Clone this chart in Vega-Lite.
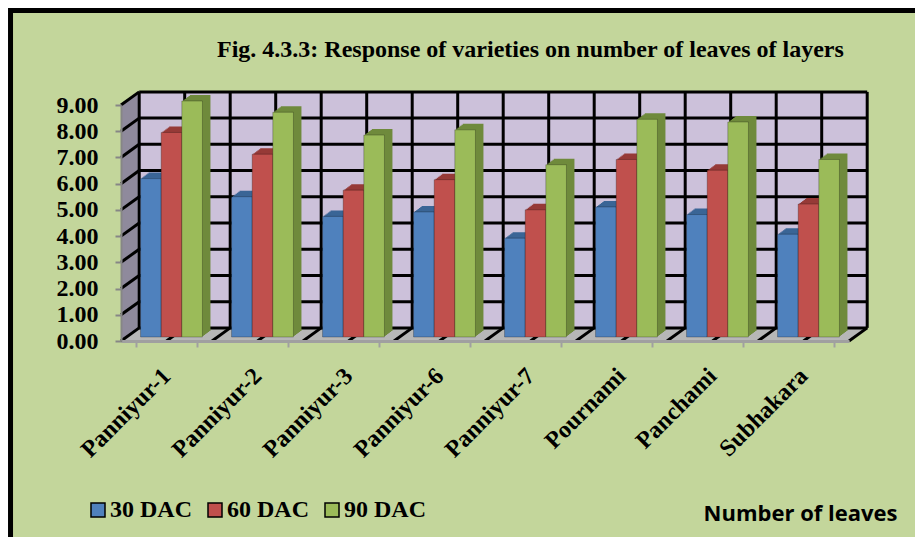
{"$schema":"https://vega.github.io/schema/vega-lite/v6.json","width":728,"height":236,"autosize":{"type":"none"},"padding":{"left":121,"top":105,"right":66,"bottom":196},"background":"white","title":{"text":"Fig. 4.3.3: Response of varieties on number of leaves of layers","anchor":"start","dx":209,"offset":-54,"zindex":2,"font":"Liberation Serif","fontSize":24,"fontWeight":"bold","color":"#000000"},"config":{"view":{"stroke":null},"axis":{"labelOverlap":false,"labelBound":false,"labelFlush":false}},"datasets":{"bars":[{"variety":"Panniyur-1","stage":"30 DAC","leaves":6.04},{"variety":"Panniyur-1","stage":"60 DAC","leaves":7.8},{"variety":"Panniyur-1","stage":"90 DAC","leaves":9.0},{"variety":"Panniyur-2","stage":"30 DAC","leaves":5.35},{"variety":"Panniyur-2","stage":"60 DAC","leaves":6.97},{"variety":"Panniyur-2","stage":"90 DAC","leaves":8.57},{"variety":"Panniyur-3","stage":"30 DAC","leaves":4.6},{"variety":"Panniyur-3","stage":"60 DAC","leaves":5.6},{"variety":"Panniyur-3","stage":"90 DAC","leaves":7.7},{"variety":"Panniyur-6","stage":"30 DAC","leaves":4.77},{"variety":"Panniyur-6","stage":"60 DAC","leaves":6.0},{"variety":"Panniyur-6","stage":"90 DAC","leaves":7.9},{"variety":"Panniyur-7","stage":"30 DAC","leaves":3.77},{"variety":"Panniyur-7","stage":"60 DAC","leaves":4.85},{"variety":"Panniyur-7","stage":"90 DAC","leaves":6.57},{"variety":"Pournami","stage":"30 DAC","leaves":4.96},{"variety":"Pournami","stage":"60 DAC","leaves":6.77},{"variety":"Pournami","stage":"90 DAC","leaves":8.3},{"variety":"Panchami","stage":"30 DAC","leaves":4.67},{"variety":"Panchami","stage":"60 DAC","leaves":6.36},{"variety":"Panchami","stage":"90 DAC","leaves":8.2},{"variety":"Subhakara","stage":"30 DAC","leaves":3.92},{"variety":"Subhakara","stage":"60 DAC","leaves":5.07},{"variety":"Subhakara","stage":"90 DAC","leaves":6.77}],"left":[{"d":0,"lo":0,"hi":9},{"d":0.2,"lo":0.5,"hi":9.5}],"floor":[{"d":0,"lo":0,"hi":0},{"d":0.2,"lo":0,"hi":0.5},{"d":8,"lo":0,"hi":0.5},{"d":8.2,"lo":0.5,"hi":0.5}],"wall":[{"d":0.2,"lo":0.5,"hi":9.5},{"d":8.2,"lo":0.5,"hi":9.5}],"sheet":[{"a":-1.214,"b":8.9,"lo":-8,"hi":12.6}],"grid":[{"a":0.2,"b":8.2,"lo":0.5,"hi":0.5},{"a":0.2,"b":8.2,"lo":1.5,"hi":1.5},{"a":0.2,"b":8.2,"lo":2.5,"hi":2.5},{"a":0.2,"b":8.2,"lo":3.5,"hi":3.5},{"a":0.2,"b":8.2,"lo":4.5,"hi":4.5},{"a":0.2,"b":8.2,"lo":5.5,"hi":5.5},{"a":0.2,"b":8.2,"lo":6.5,"hi":6.5},{"a":0.2,"b":8.2,"lo":7.5,"hi":7.5},{"a":0.2,"b":8.2,"lo":8.5,"hi":8.5},{"a":0.2,"b":8.2,"lo":9.5,"hi":9.5},{"a":0.2,"b":0.2,"lo":0.5,"hi":9.5},{"a":0.7,"b":0.7,"lo":0.5,"hi":9.5},{"a":1.2,"b":1.2,"lo":0.5,"hi":9.5},{"a":1.7,"b":1.7,"lo":0.5,"hi":9.5},{"a":2.2,"b":2.2,"lo":0.5,"hi":9.5},{"a":2.7,"b":2.7,"lo":0.5,"hi":9.5},{"a":3.2,"b":3.2,"lo":0.5,"hi":9.5},{"a":3.7,"b":3.7,"lo":0.5,"hi":9.5},{"a":4.2,"b":4.2,"lo":0.5,"hi":9.5},{"a":4.7,"b":4.7,"lo":0.5,"hi":9.5},{"a":5.2,"b":5.2,"lo":0.5,"hi":9.5},{"a":5.7,"b":5.7,"lo":0.5,"hi":9.5},{"a":6.2,"b":6.2,"lo":0.5,"hi":9.5},{"a":6.7,"b":6.7,"lo":0.5,"hi":9.5},{"a":7.2,"b":7.2,"lo":0.5,"hi":9.5},{"a":7.7,"b":7.7,"lo":0.5,"hi":9.5},{"a":8.2,"b":8.2,"lo":0.5,"hi":9.5},{"a":0,"b":0.2,"lo":0,"hi":0.5},{"a":0,"b":0.2,"lo":1,"hi":1.5},{"a":0,"b":0.2,"lo":2,"hi":2.5},{"a":0,"b":0.2,"lo":3,"hi":3.5},{"a":0,"b":0.2,"lo":4,"hi":4.5},{"a":0,"b":0.2,"lo":5,"hi":5.5},{"a":0,"b":0.2,"lo":6,"hi":6.5},{"a":0,"b":0.2,"lo":7,"hi":7.5},{"a":0,"b":0.2,"lo":8,"hi":8.5},{"a":0,"b":0.2,"lo":9,"hi":9.5},{"a":0.5,"b":0.7,"lo":0,"hi":0.5},{"a":1,"b":1.2,"lo":0,"hi":0.5},{"a":1.5,"b":1.7,"lo":0,"hi":0.5},{"a":2,"b":2.2,"lo":0,"hi":0.5},{"a":2.5,"b":2.7,"lo":0,"hi":0.5},{"a":3,"b":3.2,"lo":0,"hi":0.5},{"a":3.5,"b":3.7,"lo":0,"hi":0.5},{"a":4,"b":4.2,"lo":0,"hi":0.5},{"a":4.5,"b":4.7,"lo":0,"hi":0.5},{"a":5,"b":5.2,"lo":0,"hi":0.5},{"a":5.5,"b":5.7,"lo":0,"hi":0.5},{"a":6,"b":6.2,"lo":0,"hi":0.5},{"a":6.5,"b":6.7,"lo":0,"hi":0.5},{"a":7,"b":7.2,"lo":0,"hi":0.5},{"a":7.5,"b":7.7,"lo":0,"hi":0.5},{"a":8,"b":8.2,"lo":0,"hi":0.5}]},"resolve":{"scale":{"x":"independent","y":"independent","color":"independent"},"axis":{"x":"independent","y":"independent"}},"layer":[{"layer":[{"data":{"name":"sheet"},"mark":{"type":"rect","fill":"#c3d69b","stroke":"#000000","strokeWidth":5},"encoding":{"x":{"field":"a","type":"quantitative","scale":{"domain":[0,8],"nice":false},"axis":null},"x2":{"field":"b"},"y":{"field":"lo","type":"quantitative","scale":{"domain":[0,9],"nice":false},"axis":null},"y2":{"field":"hi"}}},{"data":{"name":"left"},"mark":{"type":"area","color":"#8f8a9c"},"encoding":{"x":{"field":"d","type":"quantitative","axis":null},"y":{"field":"lo","type":"quantitative","axis":null},"y2":{"field":"hi"}}},{"data":{"name":"floor"},"mark":{"type":"area","color":"#b7b7b7"},"encoding":{"x":{"field":"d","type":"quantitative","axis":null},"y":{"field":"lo","type":"quantitative","axis":null},"y2":{"field":"hi"}}},{"data":{"name":"wall"},"mark":{"type":"area","color":"#ccc1da"},"encoding":{"x":{"field":"d","type":"quantitative","axis":null},"y":{"field":"lo","type":"quantitative","axis":null},"y2":{"field":"hi"}}},{"data":{"name":"grid"},"mark":{"type":"rule","color":"#000000","strokeWidth":3},"encoding":{"x":{"field":"a","type":"quantitative","axis":null},"x2":{"field":"b"},"y":{"field":"lo","type":"quantitative","axis":null},"y2":{"field":"hi"}}}]},{"data":{"name":"bars"},"mark":{"type":"bar","opacity":0},"encoding":{"x":{"field":"variety","type":"nominal","sort":null,"scale":{"paddingInner":0.32,"paddingOuter":0.16},"axis":{"orient":"bottom","zindex":1,"tickBand":"extent","title":"Number of leaves","titleX":679,"titleY":162,"titleFont":"Open Sans","titleFontSize":22,"titleFontWeight":"bold","titleColor":"#000000","domainColor":"#a0a0a0","domainWidth":3,"tickColor":"#a0a0a0","tickWidth":2,"tickSize":6,"labelAngle":-45,"labelAlign":"right","labelBaseline":"middle","labelPadding":25,"labelFont":"Liberation Serif","labelFontSize":24,"labelFontWeight":"bold","labelColor":"#000000"}},"xOffset":{"field":"stage","type":"nominal"},"y":{"field":"leaves","type":"quantitative","stack":null,"scale":{"domain":[0,9],"nice":false},"axis":{"values":[0,1,2,3,4,5,6,7,8,9],"format":".2f","title":null,"grid":false,"zindex":1,"domain":true,"domainColor":"#868686","domainWidth":2,"tickColor":"#868686","tickSize":6,"tickWidth":2,"labelFont":"Liberation Serif","labelFontSize":24,"labelFontWeight":"bold","labelColor":"#000000","labelPadding":17}},"color":{"field":"stage","type":"nominal","legend":null}}},{"data":{"name":"bars"},"mark":{"type":"bar"},"encoding":{"x":{"field":"variety","type":"nominal","sort":null,"scale":{"paddingInner":0.32,"paddingOuter":0.16,"range":[6.33,734.33]},"axis":null},"xOffset":{"field":"stage","type":"nominal"},"y":{"field":"leaves","type":"quantitative","stack":null,"axis":null,"scale":{"domain":[0,9],"range":[231,-5]}},"color":{"field":"stage","type":"nominal","scale":{"range":["#3a6596","#963a37","#6f8a3c"]},"legend":null}}},{"data":{"name":"bars"},"mark":{"type":"bar"},"encoding":{"x":{"field":"variety","type":"nominal","sort":null,"scale":{"paddingInner":0.32,"paddingOuter":0.16,"range":[7.67,735.67]},"axis":null},"xOffset":{"field":"stage","type":"nominal"},"y":{"field":"leaves","type":"quantitative","stack":null,"axis":null,"scale":{"domain":[0,9],"range":[230,-6]}},"color":{"field":"stage","type":"nominal","scale":{"range":["#3a6596","#963a37","#6f8a3c"]},"legend":null}}},{"data":{"name":"bars"},"mark":{"type":"bar"},"encoding":{"x":{"field":"variety","type":"nominal","sort":null,"scale":{"paddingInner":0.32,"paddingOuter":0.16,"range":[9,737]},"axis":null},"xOffset":{"field":"stage","type":"nominal"},"y":{"field":"leaves","type":"quantitative","stack":null,"axis":null,"scale":{"domain":[0,9],"range":[229,-7]}},"color":{"field":"stage","type":"nominal","scale":{"range":["#3a6596","#963a37","#6f8a3c"]},"legend":null}}},{"data":{"name":"bars"},"mark":{"type":"bar"},"encoding":{"x":{"field":"variety","type":"nominal","sort":null,"scale":{"paddingInner":0.32,"paddingOuter":0.16,"range":[10.33,738.33]},"axis":null},"xOffset":{"field":"stage","type":"nominal"},"y":{"field":"leaves","type":"quantitative","stack":null,"axis":null,"scale":{"domain":[0,9],"range":[228,-8]}},"color":{"field":"stage","type":"nominal","scale":{"range":["#3a6596","#963a37","#6f8a3c"]},"legend":null}}},{"data":{"name":"bars"},"mark":{"type":"bar"},"encoding":{"x":{"field":"variety","type":"nominal","sort":null,"scale":{"paddingInner":0.32,"paddingOuter":0.16,"range":[11.67,739.67]},"axis":null},"xOffset":{"field":"stage","type":"nominal"},"y":{"field":"leaves","type":"quantitative","stack":null,"axis":null,"scale":{"domain":[0,9],"range":[227,-9]}},"color":{"field":"stage","type":"nominal","scale":{"range":["#3a6596","#963a37","#6f8a3c"]},"legend":null}}},{"data":{"name":"bars"},"mark":{"type":"bar"},"encoding":{"x":{"field":"variety","type":"nominal","sort":null,"scale":{"paddingInner":0.32,"paddingOuter":0.16,"range":[13,741]},"axis":null},"xOffset":{"field":"stage","type":"nominal"},"y":{"field":"leaves","type":"quantitative","stack":null,"axis":null,"scale":{"domain":[0,9],"range":[226,-10]}},"color":{"field":"stage","type":"nominal","scale":{"range":["#3a6596","#963a37","#6f8a3c"]},"legend":null}}},{"data":{"name":"bars"},"mark":{"type":"bar","stroke":"#000000","strokeOpacity":0.25,"strokeWidth":1},"encoding":{"x":{"field":"variety","type":"nominal","sort":null,"scale":{"paddingInner":0.32,"paddingOuter":0.16,"range":[5,733]},"axis":null},"xOffset":{"field":"stage","type":"nominal"},"y":{"field":"leaves","type":"quantitative","stack":null,"axis":null,"scale":{"domain":[0,9],"range":[232,-4]}},"color":{"field":"stage","type":"nominal","scale":{"range":["#4f81bd","#c0504d","#9bbb59"]},"legend":{"orient":"none","legendX":-35,"legendY":393,"direction":"horizontal","title":null,"symbolType":"square","symbolSize":196,"symbolStrokeWidth":1.5,"labelFont":"Liberation Serif","labelFontSize":24,"labelFontWeight":"bold","labelColor":"#000000","columnPadding":11,"labelOffset":0}}}}]}
